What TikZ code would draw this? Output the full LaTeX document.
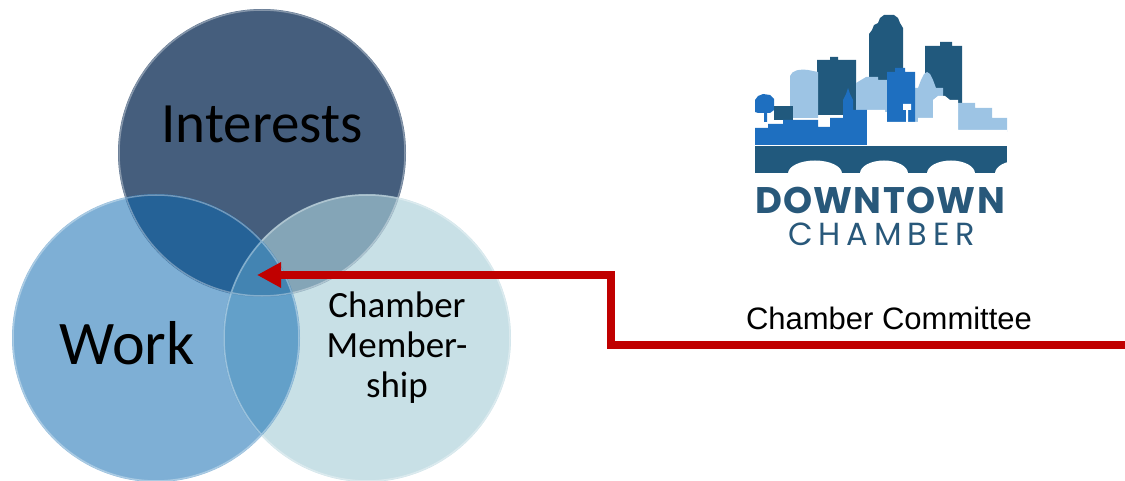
\documentclass[tikz,border=0pt]{standalone}
\usepackage{fontspec}
\setmainfont{Carlito}
\newfontfamily\arialfont{Liberation Sans}
\newfontfamily\logofont{Poppins}
\usetikzlibrary{arrows.meta}
\definecolor{interestcol}{RGB}{69,94,125}
\definecolor{workcol}{RGB}{8,102,175}
\definecolor{membercol}{RGB}{169,206,216}
\definecolor{arrowred}{RGB}{192,0,0}
\definecolor{logodark}{RGB}{33,89,125}
\definecolor{logobright}{RGB}{30,111,192}
\definecolor{logolight}{RGB}{157,196,228}
\definecolor{logotext}{RGB}{40,88,122}

\begin{document}
\begin{tikzpicture}[x=1pt,y=-1pt,
	label/.style={inner sep=0pt,text=black},
	rim/.style={draw=white,draw opacity=0.35,line width=1.5pt}]
	\useasboundingbox (0,0) rectangle (1125,481);
	% circles
	\coordinate (ic) at (262,153);
	\coordinate (mc) at (367,338);
	\coordinate (wc) at (156,338);
	\fill[interestcol] (ic) circle[radius=144];
	\fill[membercol,fill opacity=0.64] (mc) circle[radius=144];
	\fill[workcol,fill opacity=0.52] (wc) circle[radius=144];
	\draw[rim] (ic) circle[radius=143] (mc) circle[radius=143] (wc) circle[radius=143];
	% labels
	\node[label,font=\fontsize{57}{60}\selectfont] (interests) at (262,124) {Interests};
	\node[label,font=\fontsize{62}{66}\selectfont] (work) at (127,343) {Work};
	\node[label,align=center,font=\fontsize{37}{40}\selectfont] (member) at (397,348) {Chamber\\Member-\\ship};
	\node[label,font=\arialfont\fontsize{31}{36}\selectfont] (committee) at (889,318) {Chamber Committee};
	% arrow
	\coordinate (edge) at (1125,345);
	\coordinate (hub) at (257,275);
	\draw[arrowred,line width=7.5pt,-{Triangle[length=24pt,width=24pt]}]
	(edge) -- ++(-514,0) |- (hub);
	% logo: back towers
	\fill[logodark] (869,112) -- (869,34) -- (872,30) -- (874,25) -- (878,23) -- (880,18) -- (884,15)
	-- (894,15) -- (898,18) -- (900,23) -- (903,28) -- (903,112) -- cycle;
	\fill[logodark] (925,112) -- (925,46) -- (940,46) -- (940,42) -- (952,42) -- (952,46)
	-- (962,46) -- (962,112) -- cycle;
	\fill[logodark] (817,115) -- (817,60) -- (830,60) -- (830,57) -- (838,57) -- (838,60)
	-- (856,60) -- (856,115) -- cycle;
	% logo: light buildings
	\fill[logolight] (790,118) -- (790,76) .. controls (792,70) and (800,69) .. (808,70)
	-- (818,72) -- (818,118) -- cycle;
	\fill[logolight] (856,112) -- (856,83) -- (861,80) -- (866,77) -- (878,77) -- (878,80)
	-- (889,80) -- (889,112) -- cycle;
	\fill[logolight] (913,122) -- (913,88) -- (918,88) -- (921,80) -- (924,74) -- (927,72)
	-- (930,74) -- (933,80) -- (936,88) -- (943,88) -- (943,122) -- cycle;
	\fill[logolight] (958,132) -- (958,103) -- (975,103) -- (975,108) -- (992,108) -- (992,118)
	-- (1007,118) -- (1007,132) -- cycle;
	% logo: bright buildings
	\fill[logobright] (887,122) -- (887,72) -- (895,72) -- (895,68) -- (905,68) -- (905,72)
	-- (915,72) -- (915,122) -- cycle;
	\fill[logobright] (755,112) -- (755,100) -- (758,96) -- (763,94) -- (770,95) -- (774,99)
	-- (774,110) -- (770,113) -- (767,113) -- (767,122) -- (764,122) -- (764,113) -- (758,113) -- cycle;
	\fill[logodark] (774,120) -- (774,106) -- (793,106) -- (793,120) -- cycle;
	\fill[logobright] (755,145) -- (755,128) -- (768,128) -- (768,124) -- (783,124) -- (783,120)
	-- (818,120) -- (818,127) -- (830,127) -- (830,118) -- (843,118) -- (843,100) -- (846,94)
	-- (848,88) -- (850,94) -- (853,100) -- (853,110) -- (867,110) -- (867,145) -- cycle;
	% logo: white front buildings and water tower
	\fill[white] (867,145) -- (867,110) -- (885,110) -- (885,122) -- (918,122) -- (918,118)
	-- (933,118) -- (933,100) -- (938,96) -- (945,96) -- (950,100) -- (958,100) -- (958,130)
	-- (1007,130) -- (1007,145) -- cycle;
	\fill[white] (903,104) rectangle (911,110) (906,110) rectangle (908,122);
	% logo: bridge
	\begin{scope}
		\clip (755,140) rectangle (1007,180);
		\fill[logodark] (755,146) rectangle (1007,173);
		\foreach \c/\r in {815/27,884/24,951/24,1019/24}
		\fill[white] (\c-\r,173.5) arc[start angle=180,end angle=360,x radius=\r,y radius=13] -- cycle;
	\end{scope}
	\node[inner sep=0pt,text=logotext,font=\logofont\bfseries\fontsize{37}{40}\selectfont] (downtown) at (880,200.5)
	{\makebox[250pt][s]{D\hfill O\hfill W\hfill N\hfill T\hfill O\hfill W\hfill N}};
	\node[inner sep=0pt,text=logotext,font=\logofont\fontsize{32}{36}\selectfont] (chamber) at (881.5,234.5)
	{\makebox[187pt][s]{C\hfill H\hfill A\hfill M\hfill B\hfill E\hfill R}};
\end{tikzpicture}
\end{document}
